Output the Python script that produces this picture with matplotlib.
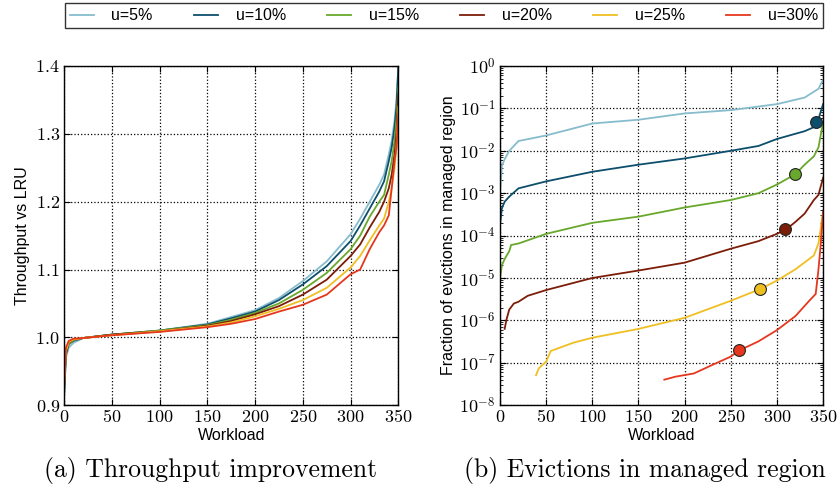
import numpy as np
import matplotlib
matplotlib.use("Agg")
import matplotlib.pyplot as plt
from matplotlib.ticker import FuncFormatter, LogLocator, MultipleLocator, NullFormatter

plt.rcParams['mathtext.fontset'] = 'cm'
plt.rcParams['font.family'] = ['Liberation Sans', 'DejaVu Sans']

labels = ["u=5%", "u=10%", "u=15%", "u=20%", "u=25%", "u=30%"]
colors = ["#86bccd", "#0d4e6d", "#68a82c", "#7c1d08", "#efbf22", "#e6371e"]

# (a) throughput vs LRU, read at these workload indices
wl_a = [0, 2, 5, 10, 20, 50, 100, 150, 175, 200, 225, 250, 275, 300, 310, 320, 330, 335, 340, 343, 346, 348, 350]
thr_5 = [0.91, 0.97, 0.985, 0.992, 0.999, 1.004, 1.010, 1.020, 1.030, 1.040, 1.058, 1.083, 1.112, 1.152, 1.175, 1.20, 1.225, 1.24, 1.27, 1.29, 1.32, 1.35, 1.40]
thr_10 = [0.91, 0.975, 0.99, 0.995, 0.999, 1.004, 1.010, 1.019, 1.028, 1.038, 1.055, 1.078, 1.105, 1.142, 1.165, 1.19, 1.215, 1.23, 1.26, 1.28, 1.31, 1.34, 1.40]
thr_15 = [0.92, 0.98, 0.99, 0.996, 0.999, 1.004, 1.010, 1.018, 1.026, 1.036, 1.050, 1.070, 1.095, 1.130, 1.150, 1.178, 1.20, 1.21, 1.24, 1.26, 1.29, 1.32, 1.37]
thr_20 = [0.92, 0.98, 0.992, 0.997, 0.999, 1.004, 1.009, 1.017, 1.024, 1.034, 1.046, 1.063, 1.085, 1.12, 1.137, 1.162, 1.185, 1.20, 1.22, 1.24, 1.27, 1.30, 1.36]
thr_25 = [0.93, 0.98, 0.993, 0.997, 0.999, 1.003, 1.009, 1.016, 1.022, 1.031, 1.042, 1.055, 1.073, 1.103, 1.12, 1.143, 1.165, 1.175, 1.20, 1.22, 1.25, 1.28, 1.34]
thr_30 = [0.93, 0.985, 0.995, 0.998, 0.999, 1.003, 1.008, 1.015, 1.020, 1.027, 1.038, 1.048, 1.063, 1.093, 1.10, 1.13, 1.155, 1.165, 1.18, 1.22, 1.26, 1.28, 1.33]
thr_all = [thr_5, thr_10, thr_15, thr_20, thr_25, thr_30]

# (b) fraction of evictions in managed region
ev_x_5 = [0, 2, 5, 10, 20, 50, 100, 150, 200, 250, 300, 330, 345, 350]
ev_y_5 = [1e-3, 4.5e-3, 6.3e-3, 1.0e-2, 1.7e-2, 2.3e-2, 4.4e-2, 5.4e-2, 7.6e-2, 9.1e-2, 0.126, 0.18, 0.29, 0.47]
ev_x_10 = [0, 2, 5, 10, 20, 50, 100, 150, 200, 250, 280, 300, 330, 340, 345, 350]
ev_y_10 = [1.8e-4, 4.4e-4, 6.3e-4, 8.3e-4, 1.3e-3, 1.9e-3, 3.2e-3, 4.7e-3, 6.6e-3, 1.0e-2, 1.3e-2, 1.9e-2, 2.9e-2, 3.6e-2, 5.6e-2, 0.126]
ev_x_15 = [0, 2, 5, 10, 12, 20, 50, 100, 150, 200, 250, 280, 300, 320, 330, 340, 345, 350]
ev_y_15 = [1.0e-5, 2.0e-5, 2.8e-5, 4.3e-5, 6.0e-5, 6.5e-5, 1.1e-4, 2.0e-4, 2.8e-4, 4.6e-4, 6.9e-4, 1.0e-3, 1.6e-3, 2.8e-3, 4.7e-3, 7.4e-3, 1.2e-2, 4.7e-2]
ev_x_20 = [5, 7, 10, 15, 20, 30, 50, 100, 150, 200, 250, 280, 300, 310, 320, 330, 340, 345, 350]
ev_y_20 = [6.3e-7, 1.05e-6, 1.8e-6, 2.5e-6, 2.75e-6, 3.8e-6, 5.2e-6, 1.0e-5, 1.5e-5, 2.3e-5, 4.9e-5, 7.4e-5, 1.1e-4, 1.4e-4, 2.1e-4, 3.3e-4, 6.9e-4, 9.1e-4, 2.3e-3]
ev_x_25 = [39, 42, 50, 55, 70, 80, 100, 150, 200, 250, 282, 300, 320, 340, 345, 348, 350]
ev_y_25 = [5.1e-8, 7.4e-8, 1.07e-7, 1.9e-7, 2.5e-7, 3.0e-7, 3.9e-7, 6.3e-7, 1.15e-6, 2.9e-6, 5.5e-6, 8.7e-6, 1.6e-5, 3.4e-5, 6.5e-5, 1.8e-4, 3.6e-4]
ev_x_30 = [178, 190, 210, 230, 250, 259, 280, 300, 320, 335, 342, 345, 348, 350]
ev_y_30 = [4.0e-8, 4.7e-8, 5.6e-8, 8.9e-8, 1.4e-7, 1.95e-7, 3.2e-7, 5.9e-7, 1.26e-6, 2.9e-6, 4.2e-6, 1.6e-5, 8.5e-5, 3.6e-4]
ev_x_all = [ev_x_5, ev_x_10, ev_x_15, ev_x_20, ev_x_25, ev_x_30]
ev_y_all = [ev_y_5, ev_y_10, ev_y_15, ev_y_20, ev_y_25, ev_y_30]

# highlighted points (none for u=5%)
mark_x = [None, 342, 320, 309, 282, 259]
mark_y = [None, 4.7e-2, 2.8e-3, 1.4e-4, 5.5e-6, 1.95e-7]

fig = plt.figure(figsize=(8.38, 4.87), dpi=100)
ax1 = fig.add_axes([0.0764, 0.168, 0.399, 0.6965])
ax2 = fig.add_axes([0.5967, 0.168, 0.3855, 0.6965])

for i in range(6):
    ax1.plot(wl_a, thr_all[i], color=colors[i], lw=1.3, label=labels[i])
    ax2.plot(ev_x_all[i], ev_y_all[i], color=colors[i], lw=1.3)
    if mark_x[i] is not None:
        ax2.plot([mark_x[i]], [mark_y[i]], 'o', color=colors[i], mec='#222222', mew=0.8, ms=8.5, zorder=5)

ax1.set_xlim(0, 350)
ax1.set_ylim(0.9, 1.4)
ax1.xaxis.set_major_locator(MultipleLocator(50))
ax1.yaxis.set_major_locator(MultipleLocator(0.1))
ax1.xaxis.set_major_formatter(FuncFormatter(lambda v, p: r'$%d$' % v))
ax1.yaxis.set_major_formatter(FuncFormatter(lambda v, p: r'$%.1f$' % v))
ax1.set_ylabel("Throughput vs LRU", fontsize=11.5, labelpad=4)
ax1.set_xlabel("Workload", fontsize=11.5, labelpad=1)

ax2.set_yscale('log')
ax2.set_xlim(0, 350)
ax2.set_ylim(1e-8, 1)
ax2.xaxis.set_major_locator(MultipleLocator(50))
ax2.yaxis.set_major_locator(LogLocator(base=10, numticks=20))
ax2.yaxis.set_minor_locator(LogLocator(base=10, subs=np.arange(2, 10), numticks=20))
ax2.yaxis.set_minor_formatter(NullFormatter())
ax2.xaxis.set_major_formatter(FuncFormatter(lambda v, p: r'$%d$' % v))
ax2.yaxis.set_major_formatter(FuncFormatter(lambda v, p: r'$10^{%d}$' % round(np.log10(v))))
ax2.set_ylabel("Fraction of evictions in managed region", fontsize=11.5, labelpad=2)
ax2.set_xlabel("Workload", fontsize=11.5, labelpad=1)

for ax in (ax1, ax2):
    ax.grid(True, which='major', color='black', linestyle=':', linewidth=0.9)
    ax.tick_params(which='both', direction='in', top=True, right=True, labelsize=13, pad=3)
    ax.tick_params(which='major', length=4)
    ax.tick_params(which='minor', length=2)
    for s in ax.spines.values():
        s.set_linewidth(1.0)

leg = fig.legend(loc='lower left', bbox_to_anchor=(0.0776, 0.9425, 0.9044, 0.0515), mode='expand',
                 ncol=6, fontsize=11.5, frameon=True, fancybox=False, handlelength=1.5,
                 borderaxespad=0, borderpad=0.3, handletextpad=1.1)
leg.get_frame().set_edgecolor('black')
leg.get_frame().set_linewidth(1.0)

fig.text(0.251, 0.033, "(a) Throughput improvement", ha='center', va='center', fontsize=18.5, family='cmr10')
fig.text(0.769, 0.033, "(b) Evictions in managed region", ha='center', va='center', fontsize=18.5, family='cmr10')

fig.savefig("out.png", dpi=100)
